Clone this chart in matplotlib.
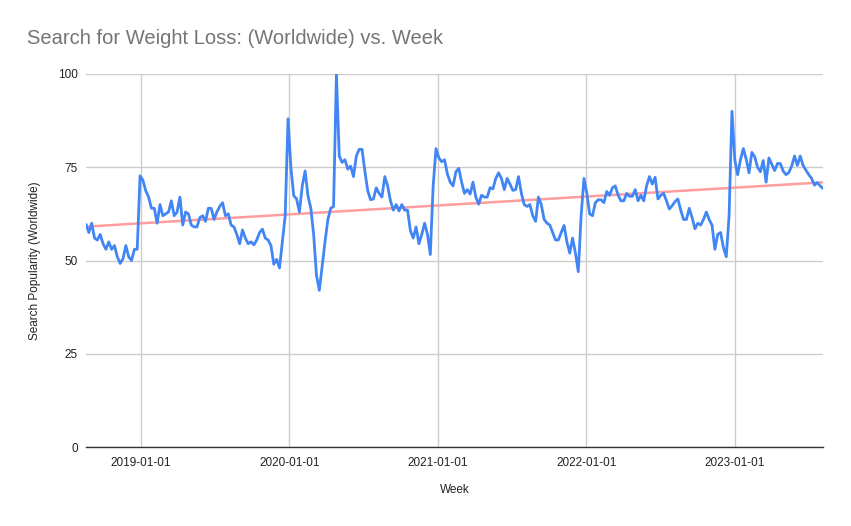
import numpy as np
import pandas as pd
import matplotlib
matplotlib.use("Agg")
import matplotlib.pyplot as plt
import matplotlib.dates as mdates

############################# Data #############################

start_week = "2018-08-19"

# weekly search popularity
popularity = [
    59.7, 57.5, 60, 56, 55.5, 57, 54.5, 53, 55, 53,
    54, 51, 49.2, 50.5, 54, 51, 50, 53, 53, 72.7,
    71.5, 68.7, 67, 64, 64, 60, 65, 62, 62.5, 63,
    66, 62, 63, 67, 59.5, 63, 62.5, 59.5, 59, 59,
    61.5, 62, 60.5, 64, 64, 61, 63, 64.5, 65.5, 62,
    62.5, 59.5, 59, 57, 54.5, 58.2, 56, 54.5, 55, 54.2,
    55.5, 57.5, 58.4, 56, 55.5, 54, 49, 50.3, 48, 55,
    62, 88, 75, 67.4, 66.5, 63, 70, 74, 67.4, 64,
    57, 46, 42, 48.5, 55, 61, 64, 64.5, 100, 78,
    76.3, 77, 74.5, 75.3, 72.5, 78, 79.8, 79.8, 74, 68.7,
    66.3, 66.5, 69.5, 68, 67, 72.5, 70, 66, 63.5, 65,
    63.3, 65, 63.5, 63.5, 58, 56, 59, 54.5, 57, 60,
    57, 51.6, 70, 80, 77.5, 76.5, 77, 73.2, 71, 70,
    73.8, 74.7, 71, 68, 69, 67.8, 71, 67, 65.1, 67.5,
    67, 67, 69.5, 69.2, 72, 73.5, 72, 69, 72, 70.5,
    68.8, 69, 72.5, 68, 65, 64.5, 65, 62, 60.5, 67,
    65, 61, 60, 59.5, 57.5, 55.5, 55.5, 57.5, 59.4, 55,
    52, 56, 52, 47, 62, 72, 68, 62.5, 62, 65.5,
    66.3, 66.3, 65.5, 68.5, 67.5, 69.5, 70, 67.5, 66, 66,
    68, 67.2, 67.2, 69, 66, 67.5, 66, 70, 72.5, 70.5,
    72.3, 66.5, 67.5, 68, 66, 63.8, 64.7, 65.8, 66.5, 63.5,
    61, 61, 64, 61.5, 58.5, 60, 59.5, 61, 63, 61,
    59.5, 53, 57, 57.5, 53.5, 51, 62, 90, 77, 73,
    77, 80, 77.2, 73.5, 79, 77.8, 75, 73.8, 76.8, 71,
    77.5, 75.8, 74.1, 76, 76, 74, 73, 73.6, 75.3, 78,
    75.5, 78, 75.5, 74.2, 73, 72, 70.2, 70.9, 70, 69.3,
]

y_ticks = [0, 25, 50, 75, 100]
x_ticks = ["2019-01-01", "2020-01-01", "2021-01-01", "2022-01-01", "2023-01-01"]

weeks = pd.date_range(start_week, periods=len(popularity), freq="7D")

#################################################################

plt.rcParams["font.family"] = ["Liberation Sans", "DejaVu Sans"]

fig = plt.figure(figsize=(8.51, 5.26), dpi=100)
ax = fig.add_axes([86 / 851, 1 - 447 / 526, (823 - 86) / 851, (447 - 74) / 526])

# trend line (linear fit over the weeks)
xnum = mdates.date2num(weeks)
coef = np.polyfit(xnum, popularity, 1)
ax.plot(weeks, np.polyval(coef, xnum), color="#ff9e9e", linewidth=1.8, zorder=2)

ax.plot(weeks, popularity, color="#4285f4", linewidth=2, zorder=3,
        solid_joinstyle="round", solid_capstyle="round")

ax.set_xlim(weeks[0], weeks[-1])
ax.set_ylim(0, 100)
ax.set_yticks(y_ticks)
ax.set_xticks(pd.to_datetime(x_ticks))
ax.set_xticklabels(x_ticks)

ax.grid(True, color="#cccccc", linewidth=1)
ax.set_axisbelow(True)
for side in ["top", "right", "left"]:
    ax.spines[side].set_visible(False)
ax.spines["bottom"].set_color("#333333")
ax.spines["bottom"].set_linewidth(1)
ax.tick_params(length=0, labelsize=8.5, colors="#222222", pad=7)
ax.tick_params(axis="y", pad=6)

ax.set_xlabel("Week", fontsize=8.5, color="#222222", labelpad=11)
ax.set_ylabel("Search Popularity (Worldwide)", fontsize=8.5, color="#222222", labelpad=12)

fig.text(27 / 851, 1 - 39 / 526, "Search for Weight Loss: (Worldwide) vs. Week",
         fontsize=14.5, color="#757575", va="center", ha="left")

fig.savefig("out.png", dpi=100)
